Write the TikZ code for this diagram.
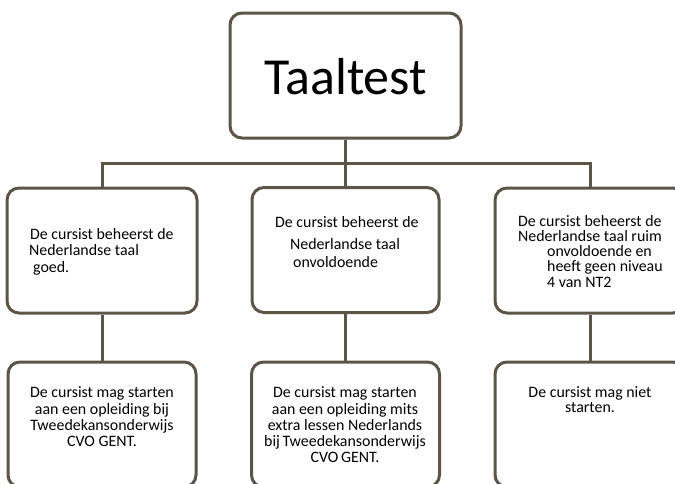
\documentclass[tikz,border=0pt]{standalone}
\usepackage{fontspec}
\setmainfont{Carlito}
\definecolor{boxline}{HTML}{5C5447}
\tikzset{
  box/.style={draw=boxline, line width=3pt, rounded corners=12pt, fill=white,
    minimum width=#1, minimum height=125pt, inner sep=0pt},
  box/.default=190pt,
  conn/.style={draw=boxline, line width=3pt},
  txt/.style={inner sep=0pt, font=\fontsize{15.9}{18}\selectfont, text=black},
  txtw/.style={txt, anchor=base west},
  txtc/.style={txt, anchor=base},
}
\begin{document}
\begin{tikzpicture}[x=1pt,y=-1pt]
\useasboundingbox (0,0) rectangle (675,483);
\clip (0,0) rectangle (675,483);
\coordinate (bus) at (345.5,163);
% connectors (drawn first, boxes cover their ends)
\node[box=231pt] (top) at (345.5,75.5) {};
\node[box=190pt] (a1) at (102,250.5) {};
\node[box=187pt] (b1) at (345.5,250) {};
\node[box=190pt] (c1) at (590,250.5) {};
\node[box=188pt] (a2) at (102,424.5) {};
\node[box=188pt] (b2) at (345.5,424.5) {};
\node[box=190pt] (c2) at (590,424.5) {};
\draw[conn] (top.south) -- (bus);
\draw[conn] (a1.north) |- (bus);
\draw[conn] (bus) -| (c1.north);
\draw[conn] (bus) -- (b1.north);
\draw[conn] (a1.south) -- (a2.north);
\draw[conn] (b1.south) -- (b2.north);
\draw[conn] (c1.south) -- (c2.north);
% title
\node[inner sep=0pt, anchor=base, font=\fontsize{52}{60}\selectfont] (title) at (345.5,94) {Taaltest};
% left top
\node[txtw] (a1l1) at (30,239) {De cursist beheerst de};
\node[txtw] (a1l2) at (29,255) {Nederlandse taal};
\node[txtw] (a1l3) at (33,272) {goed.};
% middle top
\node[txtw] (b1l1) at (275,227) {De cursist beheerst de};
\node[txtw] (b1l2) at (290,249) {Nederlandse taal};
\node[txtw] (b1l3) at (293,267) {onvoldoende};
% right top
\node[txtw] (c1l1) at (518,226) {De cursist beheerst de};
\node[txtw] (c1l2) at (518,241) {Nederlandse taal ruim};
\node[txtw] (c1l3) at (547,256) {onvoldoende en};
\node[txtw] (c1l4) at (547,271) {heeft geen niveau};
\node[txtw] (c1l5) at (547,287) {4 van NT2};
% left bottom
\node[txtc] (a2l1) at (102,397) {De cursist mag starten};
\node[txtc] (a2l2) at (102,414) {aan een opleiding bij};
\node[txtc] (a2l3) at (102,430) {Tweedekansonderwijs};
\node[txtc] (a2l4) at (102,446) {CVO GENT.};
% middle bottom
\node[txtc] (b2l1) at (345,397) {De cursist mag starten};
\node[txtc] (b2l2) at (345,414) {aan een opleiding mits};
\node[txtc] (b2l3) at (345,430) {extra lessen Nederlands};
\node[txtc] (b2l4) at (345,446) {bij\,Tweedekansonderwijs};
\node[txtc] (b2l5) at (345,462) {CVO\,GENT.};
% right bottom
\node[txtc] (c2l1) at (590,397) {De cursist mag niet};
\node[txtc] (c2l2) at (590,412) {starten.};
\end{tikzpicture}
\end{document}
